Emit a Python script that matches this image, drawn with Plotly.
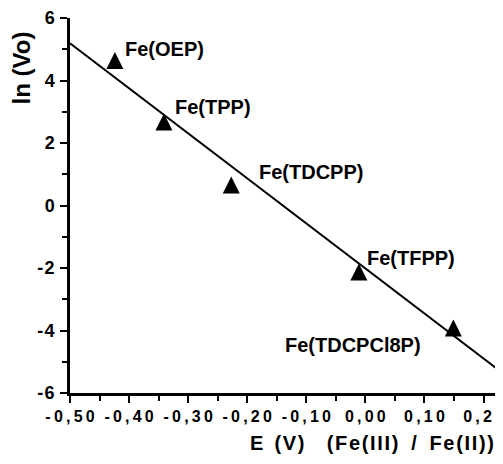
import plotly.graph_objects as go

# ---- data ----
compounds = ["Fe(OEP)", "Fe(TPP)", "Fe(TDCPP)", "Fe(TFPP)", "Fe(TDCPCl8P)"]
E_values = [-0.424, -0.341, -0.227, -0.011, 0.149]
lnVo_values = [4.64, 2.67, 0.66, -2.13, -3.92]

fit_x = [-0.50, 0.232]
fit_y = [5.19, -5.36]

label_x = [-0.410, -0.325, -0.183, 0.000, -0.139]
label_y = [5.02, 3.15, 1.07, -1.68, -4.46]

x_tickvals = [-0.5, -0.4, -0.3, -0.2, -0.1, 0.0, 0.1, 0.2]
x_ticktext = ["-0,50", "-0,40", "-0,30", "-0,20", "-0,10", "0,00", "0,10", "0,20"]
y_tickvals = [-6, -4, -2, 0, 2, 4, 6]
y_ticktext = ["-6", "-4", "-2", "0", "2", "4", "6"]

FONT = "Liberation Sans, Arial, Helvetica, sans-serif"
TS = "\u2009"
HS = "\u200a"
NB = "\u00a0"


def spaced(s, sep=TS):
    return sep.join(s)


fig = go.Figure()

fig.add_trace(go.Scatter(
    x=fit_x, y=fit_y, mode="lines",
    line=dict(color="black", width=2),
    showlegend=False, hoverinfo="skip",
))

fig.add_trace(go.Scatter(
    x=E_values, y=lnVo_values, mode="markers",
    marker=dict(symbol="arrow-down", angle=180, standoff=8.5, size=17,
                color="black", line=dict(width=0)),
    showlegend=False,
))

for name, lx, ly in zip(compounds, label_x, label_y):
    fig.add_annotation(
        x=lx, y=ly, xref="x", yref="y", text=name, showarrow=False,
        xanchor="left", yanchor="middle",
        font=dict(family=FONT, size=20, color="black", weight="bold"),
    )

# axis titles
fig.add_annotation(
    xref="paper", yref="paper", x=0.411, y=-0.133,
    xanchor="left", yanchor="middle", showarrow=False,
    text=spaced("E", HS) + NB * 2 + spaced("(V)", HS) + NB * 4
         + spaced("(Fe(III)", HS) + NB * 2 + HS + "/" + NB * 2 + HS + spaced("Fe(II))", HS),
    font=dict(family=FONT, size=20, color="black", weight="bold"),
)
fig.add_annotation(
    xref="paper", yref="paper", x=-0.111, y=0.868,
    xanchor="center", yanchor="middle", showarrow=False, textangle=-90,
    text="ln (Vo)",
    font=dict(family=FONT, size=24, color="black", weight="bold"),
)

fig.update_xaxes(
    range=[-0.5, 0.233], showgrid=False, zeroline=False,
    showline=True, linecolor="black", linewidth=2.5,
    ticks="outside", ticklen=7, tickwidth=2, tickcolor="black",
    tickvals=x_tickvals, ticktext=[spaced(t) for t in x_ticktext],
    tickfont=dict(family=FONT, size=16, color="black", weight="bold"),
    ticklabeloverflow="allow",
    minor=dict(dtick=0.05, tick0=-0.5, ticks="outside", ticklen=5,
               tickwidth=2, tickcolor="black", showgrid=False),
)
fig.update_yaxes(
    range=[-6, 6], showgrid=False, zeroline=False,
    showline=True, linecolor="black", linewidth=2.5,
    ticks="outside", ticklen=7, tickwidth=2, tickcolor="black",
    tickvals=y_tickvals, ticktext=[spaced(t, HS) for t in y_ticktext],
    tickfont=dict(family=FONT, size=18, color="black", weight="bold"),
    ticklabelstandoff=2,
    minor=dict(dtick=1, tick0=-6, ticks="outside", ticklen=5,
               tickwidth=2, tickcolor="black", showgrid=False),
)

fig.update_layout(
    width=495, height=448,
    margin=dict(l=62, r=0, t=10, b=63, pad=0, autoexpand=False),
    paper_bgcolor="white", plot_bgcolor="white",
    showlegend=False,
)

fig.write_html("out.html")
